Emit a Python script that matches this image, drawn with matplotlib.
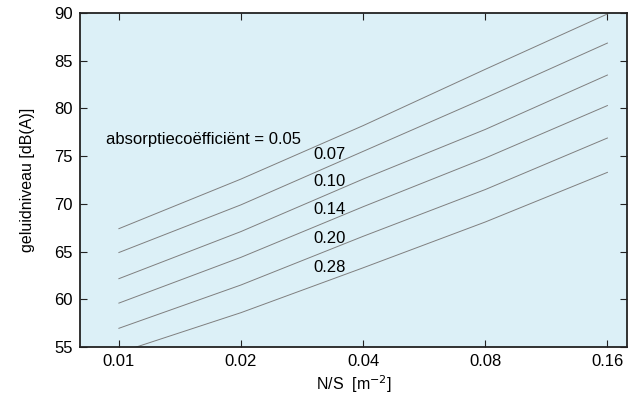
import matplotlib
matplotlib.use("Agg")
import matplotlib.pyplot as plt
from matplotlib.ticker import FixedLocator, FixedFormatter, NullLocator

plt.rcParams['font.family'] = ['Liberation Sans', 'DejaVu Sans']

# Data
ns = [0.01, 0.02, 0.04, 0.08, 0.16]
alpha_labels = ["0.05", "0.07", "0.10", "0.14", "0.20", "0.28"]
level_005 = [67.4, 72.6, 78.2, 84.1, 89.9]
level_007 = [64.9, 69.9, 75.5, 81.1, 86.85]
level_010 = [62.16, 67.1, 72.6, 77.8, 83.5]
level_014 = [59.6, 64.4, 69.7, 74.8, 80.3]
level_020 = [56.96, 61.5, 66.6, 71.5, 76.9]
level_028 = [54.4, 58.6, 63.3, 68.1, 73.3]
series = [level_005, level_007, level_010, level_014, level_020, level_028]

xticks = [0.01, 0.02, 0.04, 0.08, 0.16]
xticklabels = ["0.01", "0.02", "0.04", "0.08", "0.16"]
yticks = [55, 60, 65, 70, 75, 80, 85, 90]

fig = plt.figure(figsize=(6.38, 3.98), dpi=100)
ax = fig.add_axes([80/638, 1-347/398, 547/638, 334/398])
ax.set_facecolor('#dcf0f7')

for ys in series:
    ax.plot(ns, ys, color='#7f7f7f', lw=0.7)

ax.set_xscale('log')
ax.set_xlim(0.00802, 0.1788)
ax.set_ylim(55, 90)
ax.xaxis.set_major_locator(FixedLocator(xticks))
ax.xaxis.set_major_formatter(FixedFormatter(xticklabels))
ax.xaxis.set_minor_locator(NullLocator())
ax.set_yticks(yticks)

ax.tick_params(axis='both', which='both', direction='in', top=True, right=True,
               length=5, width=0.8, labelsize=12, pad=5, colors='#222222',
               labelcolor='black')
for s in ax.spines.values():
    s.set_linewidth(1.3)
    s.set_color('#222222')

ax.set_xlabel("N/S  [m$^{-2}$]", fontsize=11.5, labelpad=3)
ax.set_ylabel("geluidniveau [dB(A)]", fontsize=11.5, labelpad=14)

# curve labels
ax.text(0.00929, 76.7, "absorptiecoëfficiënt = " + alpha_labels[0], fontsize=12,
        va='center', ha='left')
label_y = [75.2, 72.3, 69.4, 66.4, 63.3]
for lab, yv in zip(alpha_labels[1:], label_y):
    ax.text(0.0301, yv, lab, fontsize=12, va='center', ha='left')

fig.savefig("out.png", dpi=100)
